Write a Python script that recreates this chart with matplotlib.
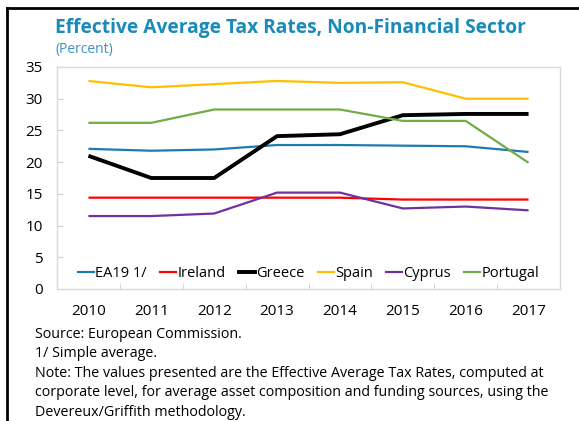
import numpy as np
import matplotlib.pyplot as plt
from matplotlib.lines import Line2D

plt.rcParams['font.family'] = ['Open Sans', 'DejaVu Sans']

# Data
years = ["2010", "2011", "2012", "2013", "2014", "2015", "2016", "2017"]
ea19 = [22.1, 21.8, 22.0, 22.7, 22.7, 22.6, 22.5, 21.6]
ireland = [14.4, 14.4, 14.4, 14.4, 14.4, 14.1, 14.1, 14.1]
greece = [21.0, 17.5, 17.5, 24.1, 24.4, 27.4, 27.6, 27.6]
spain = [32.8, 31.8, 32.3, 32.8, 32.5, 32.6, 30.0, 30.0]
cyprus = [11.5, 11.5, 11.9, 15.2, 15.2, 12.7, 13.0, 12.4]
portugal = [26.2, 26.2, 28.3, 28.3, 28.3, 26.5, 26.5, 19.9]

series = [
    ("EA19 1/", ea19, "#1f7ab4", 1.6),
    ("Ireland", ireland, "#ff0000", 1.6),
    ("Greece", greece, "#000000", 2.8),
    ("Spain", spain, "#ffc000", 1.6),
    ("Cyprus", cyprus, "#7030a0", 1.6),
    ("Portugal", portugal, "#70ad47", 1.6),
]

W, H = 579, 421
fig = plt.figure(figsize=(W / 100, H / 100), dpi=100)

# axes in pixel coords: left 57, right 560, top 67, bottom 289
ax = fig.add_axes([57 / W, 1 - 289 / H, (560 - 57) / W, (289 - 67) / H])

x = np.arange(len(years))
for name, vals, col, lw in series:
    ax.plot(x, vals, color=col, lw=lw, label=name, solid_capstyle='butt')

ax.set_xlim(-0.5, len(years) - 0.5)
ax.set_ylim(0, 35)
ax.set_yticks(range(0, 36, 5))
ax.set_xticks(x)
ax.set_xticklabels(years)
ax.set_xticks(np.arange(0.5, len(years) - 1, 1), minor=True)
ax.tick_params(axis='x', which='major', length=0, pad=11, labelsize=11)
ax.tick_params(axis='x', which='minor', length=4, color='#d0d0d0', direction='in')
ax.tick_params(axis='y', length=4, color='#d0d0d0', direction='in', labelsize=11, pad=10)
for s in ax.spines.values():
    s.set_color('#d9d9d9')
    s.set_linewidth(1)

handles = [Line2D([0], [0], color=c, lw=lw) for _, _, c, lw in series]
ax.legend(handles, [s[0] for s in series], loc='lower center', ncol=6, frameon=False,
          handlelength=1.1, handletextpad=0.1, columnspacing=0.9, fontsize=10.5,
          bbox_to_anchor=(0.5, -0.025))

fig.text(55 / W, 1 - 28 / H, "Effective Average Tax Rates, Non-Financial Sector",
         color="#1a8ab8", fontsize=13.8, fontweight='bold', va='center', ha='left')
fig.text(55 / W, 1 - 49 / H, "(Percent)", color="#3a92c6", fontsize=10,
         va='center', ha='left')

notes = [
    "Source: European Commission.",
    "1/ Simple average.",
    "Note: The values presented are the Effective Average Tax Rates, computed at",
    "corporate level, for average asset composition and funding sources, using the",
    "Devereux/Griffith methodology.",
]
for i, line in enumerate(notes):
    fig.text(35 / W, 1 - (334 + i * 19.6) / H, line, fontsize=10.3,
             va='center', ha='left', color='#000000')

# frame lines at left and top
fig.add_artist(Line2D([7 / W, 7 / W], [0, 1 - 8 / H], color='black', lw=2,
                      transform=fig.transFigure))
fig.add_artist(Line2D([7 / W, 1], [1 - 8 / H, 1 - 8 / H], color='black', lw=2,
                      transform=fig.transFigure))

fig.savefig("out.png", dpi=100)
